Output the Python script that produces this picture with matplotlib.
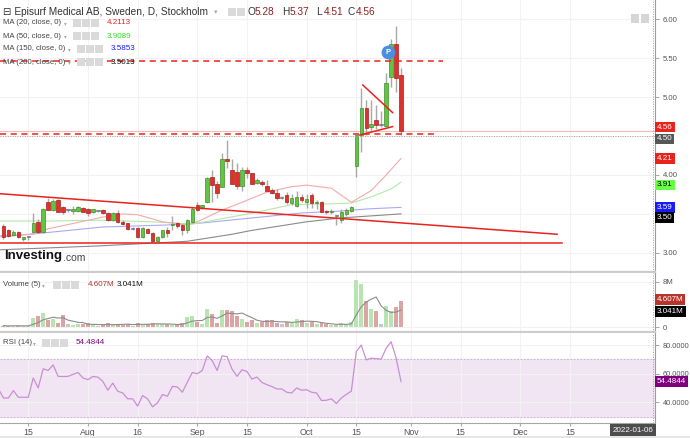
import pandas as pd
import matplotlib
matplotlib.use("Agg")
import matplotlib.pyplot as plt
from matplotlib.patches import Rectangle

plt.rcParams['font.family'] = ['Liberation Sans', 'DejaVu Sans']

# ---- daten (Episurf Medical AB, D, Stockholm) ----
first_day = '2021-07-08'
last_day = '2022-01-07'

opens = [3.34, 3.29, 3.23, 3.27, 3.18, 3.20, 3.27, 3.40, 3.27, 3.66,
         3.55, 3.68, 3.59, 3.55, 3.54, 3.54, 3.58, 3.57, 3.52, 3.54,
         3.55, 3.51, 3.42, 3.51, 3.40, 3.38, 3.31, 3.32, 3.20, 3.31,
         3.26, 3.15, 3.20, 3.30, 3.36, 3.38, 3.36, 3.29, 3.40, 3.61,
         3.59, 3.66, 3.98, 3.88, 3.85, 4.20, 4.06, 4.04, 3.86, 4.06,
         4.02, 3.90, 3.91, 3.86, 3.81, 3.77, 3.71, 3.74, 3.64, 3.60,
         3.72, 3.65, 3.74, 3.64, 3.65, 3.54, 3.52, 3.47, 3.42, 3.50,
         3.54, 4.11, 4.51, 4.86, 4.61, 4.70, 4.64, 4.63, 5.26, 5.68,
         5.28]
highs = [3.37, 3.31, 3.30, 3.28, 3.21, 3.22, 3.51, 3.44, 3.58, 3.70,
         3.69, 3.69, 3.60, 3.57, 3.60, 3.60, 3.59, 3.58, 3.57, 3.55,
         3.56, 3.52, 3.53, 3.55, 3.42, 3.39, 3.33, 3.33, 3.33, 3.32,
         3.27, 3.22, 3.30, 3.33, 3.47, 3.40, 3.37, 3.43, 3.59, 3.65,
         3.62, 3.98, 4.06, 3.92, 4.28, 4.45, 4.20, 4.16, 4.10, 4.10,
         4.03, 3.96, 3.93, 3.94, 3.83, 3.82, 3.73, 3.78, 3.75, 3.80,
         3.76, 3.76, 3.77, 3.68, 3.67, 3.55, 3.57, 3.49, 3.57, 3.58,
         3.60, 4.51, 5.12, 4.96, 4.96, 4.90, 4.82, 5.31, 5.75, 5.91,
         5.37]
lows = [3.18, 3.20, 3.22, 3.19, 3.15, 3.17, 3.26, 3.26, 3.26, 3.55,
        3.54, 3.52, 3.50, 3.53, 3.50, 3.53, 3.52, 3.48, 3.51, 3.52,
        3.50, 3.41, 3.41, 3.39, 3.36, 3.30, 3.29, 3.19, 3.19, 3.25,
        3.14, 3.14, 3.19, 3.20, 3.30, 3.32, 3.23, 3.25, 3.38, 3.54,
        3.57, 3.64, 3.66, 3.70, 3.84, 4.09, 3.89, 3.82, 3.80, 3.96,
        3.88, 3.88, 3.86, 3.79, 3.75, 3.68, 3.69, 3.63, 3.62, 3.59,
        3.66, 3.58, 3.58, 3.56, 3.52, 3.50, 3.50, 3.36, 3.38, 3.48,
        3.53, 3.98, 4.30, 4.51, 4.56, 4.59, 4.61, 4.61, 5.13, 5.07,
        4.51]
closes = [3.21, 3.22, 3.27, 3.20, 3.20, 3.20, 3.38, 3.27, 3.57, 3.55,
          3.67, 3.53, 3.53, 3.55, 3.56, 3.59, 3.53, 3.51, 3.56, 3.54,
          3.51, 3.42, 3.51, 3.40, 3.37, 3.31, 3.31, 3.20, 3.32, 3.26,
          3.15, 3.20, 3.29, 3.26, 3.37, 3.34, 3.29, 3.42, 3.57, 3.55,
          3.61, 3.96, 3.87, 3.77, 4.20, 4.18, 3.89, 3.86, 4.06, 4.02,
          3.89, 3.94, 3.88, 3.80, 3.77, 3.71, 3.71, 3.66, 3.71, 3.72,
          3.68, 3.69, 3.64, 3.65, 3.53, 3.52, 3.54, 3.47, 3.52, 3.55,
          3.59, 4.51, 4.86, 4.60, 4.65, 4.64, 4.64, 5.18, 5.68, 5.25,
          4.56]
volumes = [0.3, 0.2, 0.3, 0.3, 0.2, 0.3, 1.6, 1.9, 2.6, 1.3,
           1.5, 0.8, 2.2, 0.5, 0.4, 0.5, 0.6, 0.7, 0.4, 0.3,
           0.4, 0.7, 0.5, 0.6, 0.4, 0.6, 0.3, 0.7, 0.6, 0.5,
           0.8, 0.5, 0.6, 0.5, 0.4, 0.5, 0.7, 1.8, 2.0, 0.9,
           0.6, 3.3, 2.3, 0.8, 3.0, 3.1, 2.9, 2.0, 1.5, 0.9,
           1.2, 0.7, 1.0, 1.3, 1.3, 0.7, 0.5, 1.0, 0.9, 1.5,
           1.2, 0.8, 0.9, 0.6, 0.7, 0.5, 0.4, 0.4, 0.7, 0.6,
           0.9, 8.3, 7.6, 4.7, 3.2, 2.8, 0.5, 3.7, 2.9, 3.5,
           4.607]

rsi_start = -1
rsi_values = [49.3, 43.0, 43.0, 48.1, 43.5, 43.5, 43.5, 56.9, 50.0, 63.4,
              62.2, 66.1, 58.1, 58.0, 58.1, 59.5, 60.8, 57.0, 55.8, 58.0,
              57.6, 54.6, 48.4, 53.4, 47.7, 46.5, 42.4, 42.4, 37.3, 44.7,
              42.4, 36.8, 39.6, 45.4, 44.2, 51.1, 50.7, 47.0, 54.0, 60.8,
              59.9, 62.2, 72.4, 69.1, 62.2, 72.4, 71.9, 63.1, 58.1, 62.7,
              61.5, 56.2, 57.6, 53.9, 52.3, 51.0, 49.3, 49.3, 47.0, 46.5,
              50.0, 48.4, 48.8, 47.0, 46.5, 41.2, 41.4, 42.4, 39.1, 43.0,
              45.5, 47.7, 75.4, 80.0, 69.6, 70.8, 70.5, 70.1, 77.7, 82.3,
              71.0, 54.4844]

ma20_pos = [-1, 6, 9, 20, 24, 27, 32, 37, 39, 44, 48, 53, 58, 61, 66, 70, 74, 77, 80]
ma20_val = [3.22, 3.24, 3.31, 3.46, 3.50, 3.49, 3.40, 3.36, 3.40, 3.55, 3.65,
            3.78, 3.85, 3.87, 3.83, 3.65, 3.80, 4.00, 4.2113]
ma50_pos = [-1, 9, 19, 30, 38, 44, 50, 58, 66, 70, 74, 78, 80]
ma50_val = [3.41, 3.41, 3.42, 3.40, 3.37, 3.44, 3.51, 3.62, 3.63, 3.64, 3.72, 3.82, 3.9089]
ma150_pos = [-1, 6, 20, 33, 40, 50, 60, 68, 73, 80]
ma150_val = [3.205, 3.244, 3.333, 3.359, 3.385, 3.449, 3.513, 3.538, 3.564, 3.5853]
ma200_pos = [-1, 19, 37, 46, 50, 61, 68, 80]
ma200_val = [3.04, 3.09, 3.15, 3.24, 3.29, 3.40, 3.45, 3.5013]

# gezeichnete linien
trend_pos = [-0.7, 111.4]
trend_val = [3.76, 3.24]
support_val, support_end = 3.124, 112.4
resist_val, resist_end = 5.465, 88.4
base_val, base_end = 4.53, 87.4
tri_up_pos, tri_up_val = [72.3, 78.3], [5.154, 4.80]
tri_lo_pos, tri_lo_val = [71.7, 78.3], [4.513, 4.62]
p_mark_pos, p_mark_val = 77.4, 5.577

price_ticks = [3.0, 3.5, 4.0, 4.5, 5.0, 5.5, 6.0]
tick_dates = ['2021-07-15', '2021-08-02', '2021-08-16', '2021-09-01', '2021-09-15', '2021-10-01',
              '2021-10-15', '2021-11-01', '2021-11-15', '2021-12-01', '2021-12-15']
tick_labels = ['15', 'Aug', '16', 'Sep', '15', 'Oct', '15', 'Nov', '15', 'Dec', '15']
cross_date = '2022-01-06'
cross_price = 4.50

# ---- layout ----
W, H = 690, 438
fig = plt.figure(figsize=(W / 100, H / 100), dpi=100)
fig.patch.set_facecolor('white')


def fig_text(x, y, s, **kw):
    kw.setdefault('va', 'center')
    kw.setdefault('ha', 'left')
    fig.text(x / W, 1 - y / H, s, **kw)


def fig_rect(x, y, w, h, color):
    fig.patches.append(Rectangle((x / W, 1 - (y + h) / H), w / W, h / H,
                                 transform=fig.transFigure, fc=color, ec='none', zorder=5))


def icons(x0, y, n=3):
    for k in range(n):
        fig_rect(x0 + k * 9, y - 4, 8, 8, '#dadada')


ax = fig.add_axes([0, 1 - 272 / H, 655 / W, 272 / H])
axv = fig.add_axes([0, 1 - 332 / H, 655 / W, 59 / H])
axr = fig.add_axes([0, 1 - 423 / H, 655 / W, 90 / H])

days = pd.bdate_range(first_day, last_day)
tick_pos = [days.get_loc(pd.Timestamp(d)) for d in tick_dates]
cross_pos = days.get_loc(pd.Timestamp(cross_date))
pos = list(range(len(opens)))

for a in (ax, axv, axr):
    a.set_xlim(-0.69, 131.1)
    a.set_xticks(tick_pos)
    a.grid(True, color='#f2f2f2', lw=0.8)
    a.set_axisbelow(True)
    a.spines['left'].set_visible(False)
    a.spines['top'].set_visible(False)
    a.spines['right'].set_color('#9d9d9d')
    a.spines['right'].set_linewidth(0.8)
    a.spines['bottom'].set_color('#cccccc')
    a.spines['bottom'].set_linewidth(1.6)
    a.yaxis.tick_right()
    a.tick_params(axis='y', length=3, width=0.6, color='#999999', pad=2.5,
                  labelsize=5.6, labelcolor='#555555')
    a.tick_params(axis='x', length=0, labelbottom=False)
    a.axvline(cross_pos + 0.6, color='#a0a0a0', lw=0.7, ls=(0, (1, 1.5)), zorder=6)

# ---- hauptchart ----
ax.set_ylim(2.756, 6.244)
ax.set_yticks(price_ticks)
# 3.50 und 4.50 liegen unter den Wertmarken am Rand
ax.set_yticklabels(['' if v in (3.5, 4.5) else f'{v:.2f}' for v in price_ticks])

ax.plot(ma200_pos, ma200_val, color='#8a8a8a', lw=0.8, zorder=2)
ax.plot(ma150_pos, ma150_val, color='#a9a9f2', lw=0.8, zorder=2)
ax.plot(ma50_pos, ma50_val, color='#b3e8aa', lw=0.8, zorder=2)
ax.plot(ma20_pos, ma20_val, color='#f5a9a9', lw=0.8, zorder=2)

body_col, edge_col, bottoms, heights = [], [], [], []
for o, c in zip(opens, closes):
    if c > o:
        body_col.append('#62c440'); edge_col.append('#3f8f2b')
    elif c < o:
        body_col.append('#e0302a'); edge_col.append('#a82020')
    else:
        body_col.append('#7a7a7a'); edge_col.append('#7a7a7a')
    bottoms.append(min(o, c))
    heights.append(max(abs(c - o), 0.012))

ax.vlines(pos, lows, highs, colors='#a8a8a8', lw=1.0, zorder=3)
ax.bar(pos, heights, bottom=bottoms, width=0.7, color=body_col, edgecolor=edge_col, lw=0.5, zorder=4)

red = '#e8231c'
ax.plot(trend_pos, trend_val, color=red, lw=1.1, zorder=5)
ax.plot([-0.7, support_end], [support_val, support_val], color=red, lw=1.1, zorder=5)
ax.plot([-0.7, resist_end], [resist_val, resist_val], color=red, lw=1.1, ls=(0, (4, 3)), zorder=5)
ax.plot([-0.7, base_end], [base_val, base_val], color=red, lw=1.1, ls=(0, (4, 3)), zorder=5)
ax.plot(tri_up_pos, tri_up_val, color=red, lw=1.1, zorder=5)
ax.plot(tri_lo_pos, tri_lo_val, color=red, lw=1.1, zorder=5)
ax.axhline(closes[-1], color='#f6b9b9', lw=0.8, zorder=1)
ax.axhline(cross_price, color='#a0a0a0', lw=0.7, ls=(0, (1, 1.5)), zorder=6)

ax.plot([p_mark_pos], [p_mark_val], 'o', ms=9, color='#4a8fe0', zorder=7)
ax.text(p_mark_pos, p_mark_val, 'P', color='white', fontsize=5.5, fontweight='bold',
        ha='center', va='center', zorder=8)


def axis_tag(a, val, text, bg, fg='white', dy=0):
    a.annotate(text, xy=(1, val), xycoords=('axes fraction', 'data'), xytext=(1.5, dy),
               textcoords='offset points', ha='left', va='center', fontsize=5.8, color=fg,
               bbox=dict(boxstyle='square,pad=0.22', fc=bg, ec='none'),
               annotation_clip=False, zorder=10)


axis_tag(ax, closes[-1], f'{closes[-1]:.2f}', red, dy=3)
axis_tag(ax, cross_price, f'{cross_price:.2f}', '#565656', dy=-2)
axis_tag(ax, ma20_val[-1], f'{ma20_val[-1]:.2f}', red)
axis_tag(ax, ma50_val[-1], f'{ma50_val[-1]:.2f}', '#66ff44', fg='black', dy=-2)
axis_tag(ax, ma150_val[-1], f'{ma150_val[-1]:.2f}', '#1a1aff')
axis_tag(ax, ma200_val[-1], f'{ma200_val[-1]:.2f}', 'black', dy=-2.5)

# ---- volumen ----
axv.set_ylim(-0.82, 9.53)
axv.set_yticks([0, 8])
axv.set_yticklabels(['0', '8M'])
vcol = ['#b7e4b0' if c > o else '#dca5a5' if c < o else '#c8c8c8' for o, c in zip(opens, closes)]
axv.bar(pos, volumes, width=0.8, color=vcol, zorder=3)
vol_ma = pd.Series(volumes).rolling(5, min_periods=1).mean()
axv.plot(pos, vol_ma, color='#8c8c8c', lw=0.8, zorder=4)
axis_tag(axv, volumes[-1], f'{volumes[-1]:.3f}M', '#b8352c', dy=1)
axis_tag(axv, vol_ma.iloc[-1], f'{vol_ma.iloc[-1]:.3f}M', 'black', dy=-1)

# ---- RSI ----
axr.set_ylim(25.5, 88.4)
axr.set_yticks([40, 60, 80])
axr.set_yticklabels(['40.0000', '60.0000', '80.0000'])
axr.tick_params(axis='y', labelsize=5.3)
axr.axhspan(30, 70, color='#f1e5f3', zorder=0)
axr.axhline(70, color='#c2aec8', lw=0.6, ls=(0, (2, 2)), zorder=1)
axr.axhline(30, color='#c2aec8', lw=0.6, ls=(0, (2, 2)), zorder=1)
rsi_pos = list(range(rsi_start, rsi_start + len(rsi_values)))
axr.plot(rsi_pos, rsi_values, color='#c98fd3', lw=0.9, zorder=3)
axis_tag(axr, rsi_values[-1], f'{rsi_values[-1]:.4f}', '#800080')
axr.spines['bottom'].set_color('#a5a5a5')
axr.spines['bottom'].set_linewidth(0.8)
axr.set_xticklabels(tick_labels)
axr.tick_params(axis='x', length=2, color='#aaaaaa', pad=1.5, labelsize=6.3,
                labelcolor='#555555', labelbottom=True)

# ---- kopfzeilen & beschriftungen ----
fig_text(3, 12, '\u229f Episurf Medical AB, Sweden, D, Stockholm', fontsize=7.3, color='#333333')
fig_text(214, 13, '\u25be', fontsize=5, color='#aaaaaa')
icons(228, 12, 2)
for x, lab, val in [(247, 'O', '5.28'), (282, 'H', '5.37'), (316, 'L', '4.51'), (348, 'C', '4.56')]:
    fig_text(x, 12, lab, fontsize=7.3, color='#333333')
    fig_text(x + 7.5, 12, val, fontsize=7.3, color='#8e2222')

ma_rows = [(23, 'MA (20, close, 0)', f'{ma20_val[-1]:.4f}', '#ee2222', 73, 107),
           (36, 'MA (50, close, 0)', f'{ma50_val[-1]:.4f}', '#33dd22', 73, 107),
           (49, 'MA (150, close, 0)', f'{ma150_val[-1]:.4f}', '#1a1aff', 77, 111),
           (62, 'MA (200, close, 0)', f'{ma200_val[-1]:.4f}', '#111111', 77, 111)]
for y, lab, val, col, xi, xv in ma_rows:
    fig_text(3, y, lab, fontsize=5.6, color='#444444')
    fig_text(xi - 9, y + 1, '\u25be', fontsize=4, color='#aaaaaa')
    icons(xi, y, 3)
    fig_text(xv, y, val, fontsize=5.8, color=col)

fig_text(3, 285, 'Volume (5)', fontsize=5.6, color='#444444')
fig_text(42, 286, '\u25be', fontsize=4, color='#aaaaaa')
icons(53, 285, 3)
fig_text(88, 285, f'{volumes[-1]:.3f}M', fontsize=5.8, color='#b8352c')
fig_text(117, 285, f'{vol_ma.iloc[-1]:.3f}M', fontsize=5.8, color='#111111')

fig_text(3, 343, 'RSI (14)', fontsize=5.6, color='#444444')
fig_text(33, 344, '\u25be', fontsize=4, color='#aaaaaa')
icons(42, 343, 3)
fig_text(76, 343, f'{rsi_values[-1]:.4f}', fontsize=5.8, color='#800080')

fig_text(4, 256, 'Investing', fontsize=9.5, fontweight='bold', color='#111111')
fig_text(63, 258, '.com', fontsize=7.5, color='#444444')

fig_rect(631, 14, 8, 9, '#d6d6d6')
fig_rect(641, 14, 8, 9, '#d6d6d6')

fig_text(633, 430, cross_date, fontsize=5.8, color='white', ha='center',
         bbox=dict(boxstyle='square,pad=0.3', fc='#4d4d4d', ec='none'))
fig_rect(0, 436, W, 2, '#e6e6e6')

fig.savefig('out.png', dpi=100)
